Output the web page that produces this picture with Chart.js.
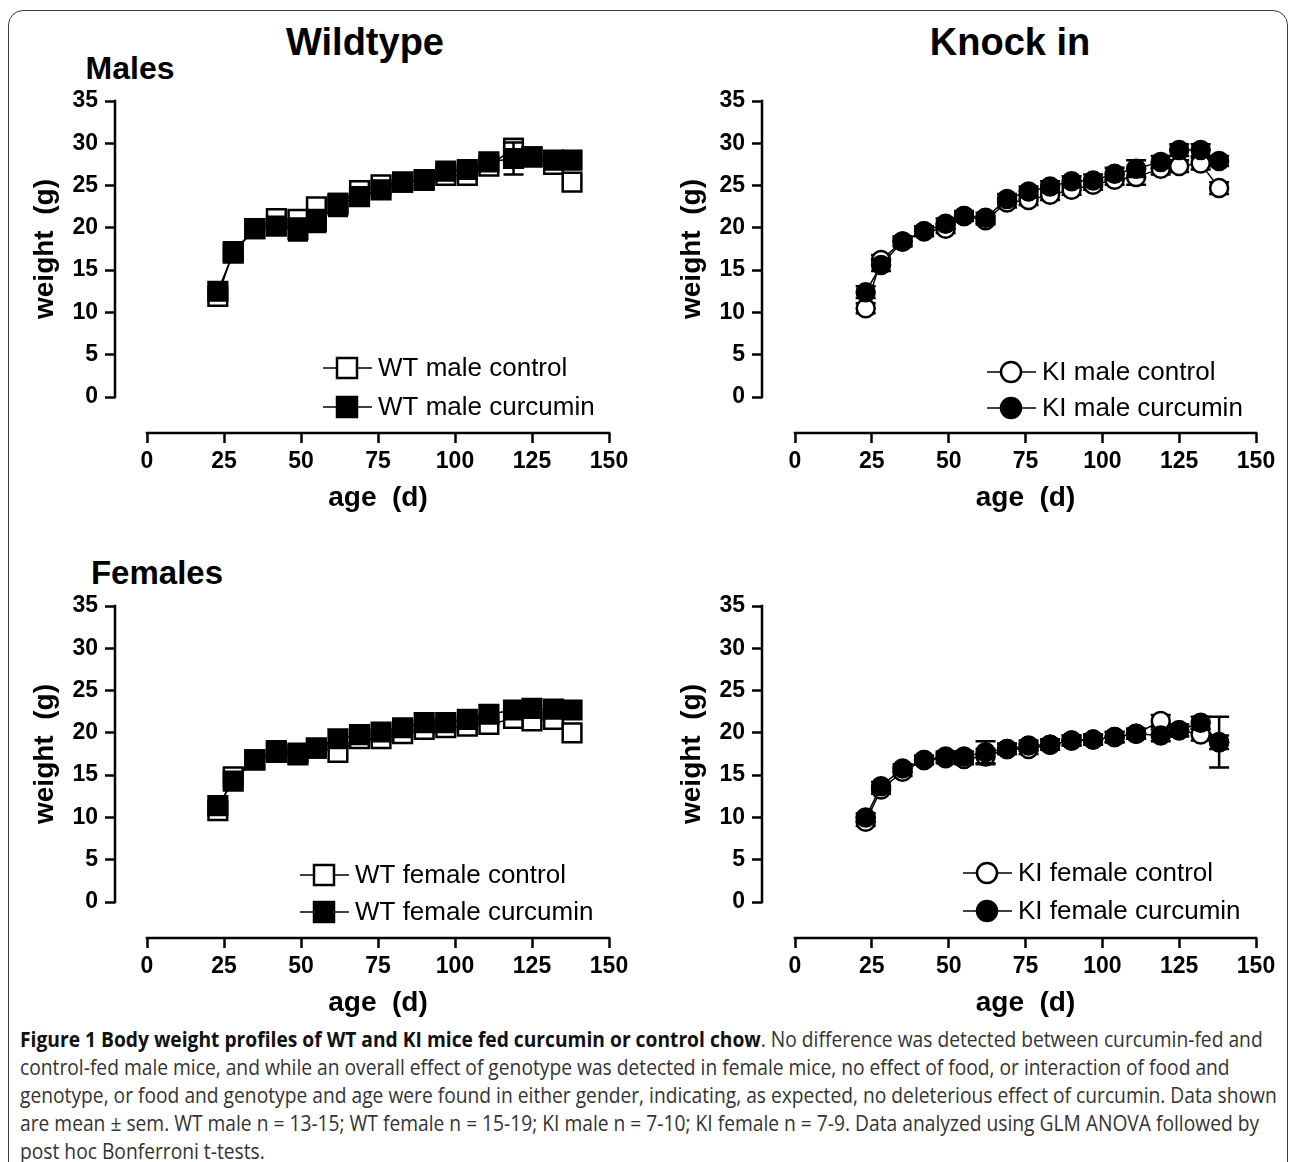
<!DOCTYPE html>
<html><head><meta charset="utf-8">
<script src="https://cdn.jsdelivr.net/npm/chart.js@4.4.1/dist/chart.umd.min.js"></script>
<style>
body{margin:0;background:#fff;width:1293px;height:1162px;position:relative;overflow:hidden;font-family:"Liberation Sans",Arial,sans-serif;}
.frame{position:absolute;left:8px;top:10px;width:1280px;height:1190px;border:1.6px solid #3a3a3a;border-radius:15px;box-sizing:border-box;}
.h{position:absolute;font-weight:bold;color:#000;white-space:nowrap;transform:translate(-50%,-50%);line-height:1;}
canvas{position:absolute;}
.cap{position:absolute;left:20px;top:1025px;font-family:"Open Sans",sans-serif;font-size:21px;line-height:28px;color:#333;white-space:nowrap;transform-origin:0 0;}
.cap b{color:#111;}
</style></head>
<body>
<div class="frame"></div>
<div class="h" style="left:365px;top:42px;font-size:38px;">Wildtype</div>
<div class="h" style="left:1010px;top:42px;font-size:38px;">Knock in</div>
<div class="h" style="left:130px;top:68px;font-size:32px;">Males</div>
<div class="h" style="left:157px;top:572px;font-size:33px;">Females</div>
<canvas id="c1" width="646" height="440" style="left:0;top:80px"></canvas>
<canvas id="c2" width="647" height="440" style="left:646px;top:80px"></canvas>
<canvas id="c3" width="646" height="440" style="left:0;top:585px"></canvas>
<canvas id="c4" width="647" height="440" style="left:646px;top:585px"></canvas>
<div class="cap" id="cap">
<div id="cl1"><b>Figure 1 Body weight profiles of WT and KI mice fed curcumin or control chow</b>. No difference was detected between curcumin-fed and</div>
<div>control-fed male mice, and while an overall effect of genotype was detected in female mice, no effect of food, or interaction of food and</div>
<div>genotype, or food and genotype and age were found in either gender, indicating, as expected, no deleterious effect of curcumin. Data shown</div>
<div>are mean ± sem. WT male n = 13-15; WT female n = 15-19; KI male n = 7-10; KI female n = 7-9. Data analyzed using GLM ANOVA followed by</div>
<div>post hoc Bonferroni t-tests.</div>
</div>
<script>
// ---- data ----
const days = [23, 28, 35, 42, 49, 55, 62, 69, 76, 83, 90, 97, 104, 111, 119, 125, 132, 138];
const xTicks = [0, 25, 50, 75, 100, 125, 150];
const yTicks = [0, 5, 10, 15, 20, 25, 30, 35];

const wtMaleControl    = [11.9, 17.2, 19.9, 21.1, 21.0, 22.5, 22.9, 24.4, 25.1, 25.4, 25.6, 26.2, 26.2, 27.3, 29.4, 28.4, 27.5, 25.4];
const wtMaleCurcumin   = [12.5, 17.0, 19.9, 20.2, 19.8, 20.8, 22.7, 23.7, 24.5, 25.4, 25.7, 26.7, 26.9, 27.8, 28.2, 28.4, 28.0, 28.0];
const wtMaleControlSem = [0.5, 0.5, 0.5, 0.8, 0.8, 0.8, 1.0, 0.6, 0.6, 0.5, 0.5, 0.6, 0.6, 0.6, 1.1, 0.6, 0.6, 0.8];
const wtMaleCurcuminSem= [0.6, 0.6, 0.6, 0.8, 1.3, 1.3, 1.3, 0.7, 0.6, 0.5, 0.5, 0.6, 0.6, 0.6, 1.9, 0.6, 0.6, 0.6];

const kiMaleControl    = [10.5, 16.2, 18.4, 19.6, 19.9, 21.4, 20.9, 23.0, 23.3, 23.9, 24.5, 25.1, 25.7, 26.0, 27.0, 27.3, 27.6, 24.7];
const kiMaleCurcumin   = [12.4, 15.6, 18.4, 19.6, 20.5, 21.4, 21.2, 23.4, 24.3, 24.9, 25.5, 25.6, 26.4, 27.0, 27.8, 29.2, 29.2, 27.9];
const kiMaleControlSem = [0.6, 0.6, 0.5, 0.5, 0.5, 0.5, 0.5, 0.6, 0.6, 0.6, 0.6, 0.6, 0.6, 0.9, 0.7, 0.7, 0.7, 0.7];
const kiMaleCurcuminSem= [0.7, 0.7, 0.6, 0.6, 0.6, 0.6, 0.6, 0.6, 0.6, 0.6, 0.6, 0.7, 0.7, 1.0, 0.7, 0.7, 0.7, 0.6];

const wtFemaleControl    = [10.8, 14.8, 16.8, 17.9, 17.6, 18.2, 17.7, 19.3, 19.3, 19.9, 20.4, 20.6, 20.8, 21.0, 21.7, 21.4, 21.6, 20.0];
const wtFemaleCurcumin   = [11.4, 14.3, 16.8, 17.7, 17.4, 18.2, 19.3, 19.8, 20.1, 20.6, 21.2, 21.2, 21.6, 22.2, 22.7, 22.9, 22.8, 22.7];
const wtFemaleControlSem = [0.5, 0.5, 0.4, 0.4, 0.4, 0.4, 0.5, 0.5, 0.5, 0.5, 0.5, 0.5, 0.5, 0.5, 0.6, 0.6, 0.6, 0.7];
const wtFemaleCurcuminSem= [0.5, 0.5, 0.4, 0.4, 0.4, 0.4, 0.5, 0.5, 0.5, 0.5, 0.5, 0.5, 0.5, 0.5, 0.6, 0.6, 0.6, 0.6];

const kiFemaleControl    = [9.5, 13.3, 15.4, 16.8, 17.2, 16.9, 17.2, 18.1, 18.1, 18.6, 19.1, 19.2, 19.5, 19.9, 21.4, 20.3, 19.8, 18.9];
const kiFemaleCurcumin   = [10.0, 13.7, 15.8, 16.8, 17.0, 17.2, 17.7, 18.1, 18.5, 18.6, 19.1, 19.2, 19.5, 19.9, 19.7, 20.3, 21.2, 18.9];
const kiFemaleControlSem = [0.5, 0.5, 0.5, 0.5, 0.6, 0.6, 0.9, 0.6, 0.6, 0.6, 0.6, 0.6, 0.6, 0.6, 0.7, 0.7, 0.7, 0.8];
const kiFemaleCurcuminSem= [0.5, 0.5, 0.5, 0.5, 0.6, 0.6, 1.3, 0.6, 0.6, 0.6, 0.6, 0.6, 0.6, 0.6, 0.7, 0.7, 0.7, 3.0];

// ---- plugins ----
const errorBars = {
  id: 'errorBars',
  beforeDatasetDraw(chart, args) {
    const ds = chart.data.datasets[args.index];
    if (!ds.sem) return;
    const ys = chart.scales.y, ctx = chart.ctx;
    ctx.save(); ctx.strokeStyle = '#000'; ctx.lineWidth = 2.5;
    args.meta.data.forEach((pt, i) => {
      const v = ds.data[i].y, s = ds.sem[i];
      const yt = ys.getPixelForValue(v + s), yb = ys.getPixelForValue(v - s), x = pt.x;
      ctx.beginPath();
      ctx.moveTo(x, yt); ctx.lineTo(x, yb);
      ctx.moveTo(x - 10, yt); ctx.lineTo(x + 10, yt);
      ctx.moveTo(x - 10, yb); ctx.lineTo(x + 10, yb);
      ctx.stroke();
    });
    ctx.restore();
  }
};

const axisLines = {
  id: 'axisLines',
  afterDraw(chart) {
    const xs = chart.scales.x, ys = chart.scales.y, ctx = chart.ctx;
    ctx.save(); ctx.strokeStyle = '#000'; ctx.lineWidth = 2.5;
    ctx.beginPath();
    ctx.moveTo(ys.right, ys.getPixelForValue(yTicks[yTicks.length - 1]) - 1.25);
    ctx.lineTo(ys.right, ys.getPixelForValue(yTicks[0]) + 1.25);
    ctx.moveTo(xs.getPixelForValue(xTicks[0]) - 1.25, xs.top);
    ctx.lineTo(xs.getPixelForValue(xTicks[xTicks.length - 1]) + 1.25, xs.top);
    ctx.stroke();
    ctx.restore();
  }
};

function drawMarker(ctx, shape, x, y, r, fill) {
  ctx.beginPath();
  if (shape === 'rect') { const s = r; ctx.rect(x - s, y - s, 2 * s, 2 * s); }
  else { ctx.arc(x, y, r, 0, Math.PI * 2); }
  ctx.fillStyle = fill; ctx.fill();
  ctx.lineWidth = 2.5; ctx.strokeStyle = '#000'; ctx.stroke();
}

const panelLegend = {
  id: 'panelLegend',
  afterDraw(chart, args, opts) {
    const ctx = chart.ctx;
    const order = [1, 0];
    ctx.save();
    order.forEach((di, row) => {
      const ds = chart.data.datasets[di];
      const y = opts.ys[row], lx = opts.x;
      ctx.strokeStyle = '#000'; ctx.lineWidth = 1.5;
      ctx.beginPath(); ctx.moveTo(lx, y); ctx.lineTo(lx + 49, y); ctx.stroke();
      drawMarker(ctx, ds.pointStyle, lx + 24, y, ds.pointStyle === 'rect' ? 10 : 10, ds.pointBackgroundColor);
      ctx.fillStyle = '#000';
      ctx.font = '26px "Liberation Sans", Arial, sans-serif';
      ctx.textBaseline = 'middle'; ctx.textAlign = 'left';
      ctx.fillText(ds.label, lx + 55, y + 1);
    });
    ctx.restore();
  }
};

const FONT = '"Liberation Sans", Arial, sans-serif';

function makePanel(id, cfg) {
  const mk = (label, vals, sem, filled, order) => ({
    label, sem, order,
    data: days.map((d, i) => ({ x: d, y: vals[i] })),
    borderColor: '#000', borderWidth: 1.5, tension: 0,
    pointStyle: cfg.shape,
    pointRadius: cfg.shape === 'rect' ? 13.2 : 9,
    pointBorderWidth: 2.5,
    pointBorderColor: '#000',
    pointBackgroundColor: filled ? '#000' : '#fff',
    clip: false
  });
  new Chart(document.getElementById(id), {
    type: 'line',
    data: {
      datasets: [
        mk(cfg.labels[1], cfg.cur, cfg.curSem, true, 0),
        mk(cfg.labels[0], cfg.ctrl, cfg.ctrlSem, false, 1)
      ]
    },
    plugins: [errorBars, axisLines, panelLegend],
    options: {
      responsive: false, animation: false, devicePixelRatio: 1,
      events: [],
      layout: { padding: { left: cfg.padLeft, top: 21, right: cfg.padRight, bottom: 5 } },
      plugins: {
        legend: { display: false }, tooltip: { enabled: false },
        panelLegend: { x: cfg.legX, ys: cfg.legY }
      },
      scales: {
        x: {
          type: 'linear', position: 'bottom', weight: 1,
          min: xTicks[0], max: xTicks[xTicks.length - 1],
          afterBuildTicks: s => { s.ticks = xTicks.map(v => ({ value: v })); },
          afterFit: s => { s.height = 82; },
          grid: { display: true, drawOnChartArea: false, drawTicks: true, tickLength: 10, tickWidth: 2.5, tickColor: '#000' },
          border: { display: false },
          ticks: { color: '#000', font: { family: FONT, size: 23, weight: 'bold' }, padding: 5, maxRotation: 0, autoSkip: false },
          title: { display: true, text: 'age  (d)', color: '#000', font: { family: FONT, size: 28, weight: 'bold' }, padding: { top: 0, bottom: 0 } }
        },
        xgap: {
          type: 'linear', position: 'bottom', weight: 0,
          afterFit: s => { s.height = 36; },
          grid: { display: false }, border: { display: false }, ticks: { display: false }, title: { display: false }
        },
        y: {
          type: 'linear', position: 'left', weight: 1,
          min: yTicks[0], max: yTicks[yTicks.length - 1],
          afterBuildTicks: s => { s.ticks = yTicks.map(v => ({ value: v })); },
          afterFit: s => { s.width = 93; },
          grid: { display: true, drawOnChartArea: false, drawTicks: true, tickLength: 10, tickWidth: 2.5, tickColor: '#000' },
          border: { display: false },
          ticks: { color: '#000', font: { family: FONT, size: 23, weight: 'bold' }, padding: 7 },
          title: { display: true, text: 'weight  (g)', color: '#000', font: { family: FONT, size: 28, weight: 'bold' }, padding: { top: 6, bottom: 0 } }
        },
        ygap: {
          type: 'linear', position: 'left', weight: 0,
          afterFit: s => { s.width = cfg.gapY; },
          grid: { display: false }, border: { display: false }, ticks: { display: false }, title: { display: false }
        }
      }
    }
  });
}

makePanel('c1', { shape: 'rect', labels: ['WT male control', 'WT male curcumin'],
  ctrl: wtMaleControl, cur: wtMaleCurcumin, ctrlSem: wtMaleControlSem, curSem: wtMaleCurcuminSem,
  padLeft: 22, padRight: 37, gapY: 32, legX: 323, legY: [288, 327] });
makePanel('c2', { shape: 'circle', labels: ['KI male control', 'KI male curcumin'],
  ctrl: kiMaleControl, cur: kiMaleCurcumin, ctrlSem: kiMaleControlSem, curSem: kiMaleCurcuminSem,
  padLeft: 23, padRight: 37, gapY: 33, legX: 341, legY: [292, 328] });
makePanel('c3', { shape: 'rect', labels: ['WT female control', 'WT female curcumin'],
  ctrl: wtFemaleControl, cur: wtFemaleCurcumin, ctrlSem: wtFemaleControlSem, curSem: wtFemaleCurcuminSem,
  padLeft: 22, padRight: 37, gapY: 32, legX: 300, legY: [290, 327] });
makePanel('c4', { shape: 'circle', labels: ['KI female control', 'KI female curcumin'],
  ctrl: kiFemaleControl, cur: kiFemaleCurcumin, ctrlSem: kiFemaleControlSem, curSem: kiFemaleCurcuminSem,
  padLeft: 23, padRight: 37, gapY: 33, legX: 317, legY: [288, 326] });

// fit caption width to the figure's text block
function fitCaption() {
  const l1 = document.getElementById('cl1');
  const w = l1.scrollWidth;
  if (w > 0) document.getElementById('cap').style.transform = 'scaleX(' + (1257 / w) + ')';
}
fitCaption();
if (document.fonts && document.fonts.ready) document.fonts.ready.then(fitCaption);
</script>
</body></html>
